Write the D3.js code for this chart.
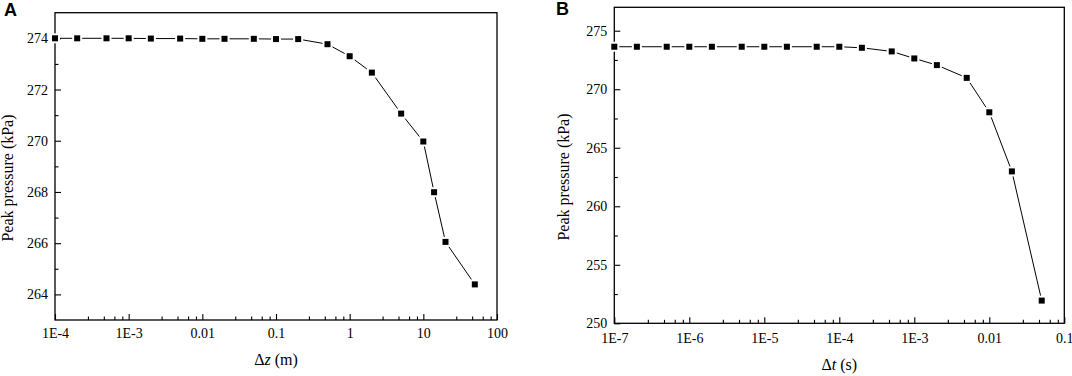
<!DOCTYPE html>
<html lang="en">
<head>
<meta charset="UTF-8">
<title>Peak pressure convergence</title>
</head>
<body style="margin:0;background:#fff">
<svg id="chart" width="1072" height="376" style="display:block"></svg>
<script src="https://cdnjs.cloudflare.com/ajax/libs/d3/7.8.5/d3.min.js"></script>
<script>
// panel A: spatial step
const dzValues = [1e-4, 2e-4, 5e-4, 1e-3, 2e-3, 5e-3, 0.01, 0.02, 0.05, 0.1, 0.2, 0.5, 1, 2, 5, 10, 14, 20, 50];
const pressureA = [274.0, 274.0, 274.0, 274.0, 273.99, 273.99, 273.98, 273.98, 273.98, 273.97, 273.97,
                   273.77, 273.3, 272.66, 271.06, 269.97, 267.99, 266.05, 264.39];
const xTickValsA = [1e-4, 1e-3, 0.01, 0.1, 1, 10, 100];
const xTickLabelsA = ["1E-4", "1E-3", "0.01", "0.1", "1", "10", "100"];
const yTicksA = [264, 266, 268, 270, 272, 274];

// panel B: time step
const dtValues = [1e-7, 2e-7, 5e-7, 1e-6, 2e-6, 5e-6, 1e-5, 2e-5, 5e-5, 1e-4, 2e-4, 5e-4, 1e-3, 2e-3, 5e-3, 0.01, 0.02, 0.05];
const pressureB = [273.63, 273.63, 273.63, 273.63, 273.63, 273.63, 273.63, 273.63, 273.63, 273.63, 273.54,
                   273.23, 272.63, 272.06, 270.97, 268.03, 262.98, 251.94];
const xTickValsB = [1e-7, 1e-6, 1e-5, 1e-4, 1e-3, 0.01, 0.1];
const xTickLabelsB = ["1E-7", "1E-6", "1E-5", "1E-4", "1E-3", "0.01", "0.1"];
const yTicksB = [250, 255, 260, 265, 270, 275];

const SERIF = "'Liberation Serif', 'Times New Roman', Times, serif";
const svg = d3.select("#chart");

// origin-style log minor ticks: 4 evenly spaced between decades
function logMinors(majors) {
  const out = [];
  majors.slice(0, -1).forEach(m => [2.8, 4.6, 6.4, 8.2].forEach(k => out.push(m * k)));
  return out;
}

function styleAxis(a) {
  a.select(".domain").remove();
  a.attr("font-family", SERIF).attr("font-size", 14);
  a.selectAll(".tick text").attr("fill", "#000");
  a.selectAll(".tick line").attr("stroke", "#000").attr("stroke-width", 1.1);
}

function drawPanel(cfg) {
  const x = d3.scaleLog().domain(cfg.xDomain).range([cfg.left, cfg.right]);
  const y = d3.scaleLinear().domain(cfg.yDomain).range([cfg.bottom, cfg.top]);
  const g = svg.append("g");

  // minor ticks
  g.append("g")
    .attr("transform", `translate(0,${cfg.bottom})`)
    .call(d3.axisBottom(x).tickValues(logMinors(cfg.xTicks)).tickSize(-3.5).tickFormat(""))
    .call(styleAxis);
  g.append("g")
    .attr("transform", `translate(${cfg.left},0)`)
    .call(d3.axisLeft(y).tickValues(cfg.yMinor).tickSize(-3.5).tickFormat(""))
    .call(styleAxis);

  // major ticks
  g.append("g")
    .attr("transform", `translate(0,${cfg.bottom})`)
    .call(d3.axisBottom(x).tickValues(cfg.xTicks).tickSize(-6).tickPadding(cfg.xPad)
      .tickFormat((d, i) => cfg.xLabels[i]))
    .call(styleAxis);
  g.append("g")
    .attr("transform", `translate(${cfg.left},0)`)
    .call(d3.axisLeft(y).tickValues(cfg.yTicks).tickSize(-6).tickPadding(7).tickFormat(d3.format("d")))
    .call(styleAxis);

  g.append("rect")
    .attr("x", cfg.left).attr("y", cfg.top)
    .attr("width", cfg.right - cfg.left).attr("height", cfg.bottom - cfg.top)
    .attr("fill", "none").attr("stroke", "#000").attr("stroke-width", 1.3);

  const pts = cfg.xs.map((v, i) => [v, cfg.ys[i]]);
  const line = d3.line().x(d => x(d[0])).y(d => y(d[1]));
  g.append("path").datum(pts)
    .attr("d", line).attr("fill", "none").attr("stroke", "#000").attr("stroke-width", 1);

  // white halo gives the gap in the line around each marker
  g.selectAll(".halo").data(pts).enter().append("rect")
    .attr("x", d => x(d[0]) - 5).attr("y", d => y(d[1]) - 5)
    .attr("width", 10).attr("height", 10).attr("fill", "#fff");
  g.selectAll(".mk").data(pts).enter().append("rect")
    .attr("x", d => x(d[0]) - 3).attr("y", d => y(d[1]) - 3)
    .attr("width", 6).attr("height", 6).attr("fill", "#000");

  // y title
  g.append("text")
    .attr("transform", `translate(${cfg.yTitleX},${cfg.yTitleY}) rotate(-90)`)
    .attr("text-anchor", "middle")
    .attr("font-family", SERIF).attr("font-size", 16).attr("fill", "#000")
    .text("Peak pressure (kPa)");

  // x title: upright delta, italic variable
  const xt = g.append("text")
    .attr("x", (cfg.left + cfg.right) / 2).attr("y", cfg.xTitleY).attr("text-anchor", "middle")
    .attr("font-family", SERIF).attr("font-size", 16).attr("fill", "#000");
  xt.append("tspan").text("\u0394");
  xt.append("tspan").attr("font-style", "italic").text(cfg.varName);
  xt.append("tspan").text(" " + cfg.unit);

  g.append("text")
    .attr("x", cfg.letterX).attr("y", cfg.letterY)
    .attr("font-family", "'Liberation Sans', Arial, sans-serif")
    .attr("font-size", 18).attr("font-weight", "bold").attr("fill", "#000")
    .text(cfg.letter);
}

drawPanel({
  left: 55, right: 497, top: 12.7, bottom: 320,
  xDomain: [1e-4, 100], yDomain: [263, 275],
  xTicks: xTickValsA, xLabels: xTickLabelsA, xPad: 8,
  yTicks: yTicksA, yMinor: [265, 267, 269, 271, 273],
  xs: dzValues, ys: pressureA,
  yTitleX: 13, yTitleY: 178, xTitleY: 365,
  varName: "z", unit: "(m)",
  letter: "A", letterX: 4, letterY: 16
});

drawPanel({
  left: 614.3, right: 1064.3, top: 7.3, bottom: 323.3,
  xDomain: [1e-7, 0.1], yDomain: [250, 277],
  xTicks: xTickValsB, xLabels: xTickLabelsB, xPad: 10,
  yTicks: yTicksB, yMinor: [252.5, 257.5, 262.5, 267.5, 272.5],
  xs: dtValues, ys: pressureB,
  yTitleX: 569, yTitleY: 177, xTitleY: 370,
  varName: "t", unit: "(s)",
  letter: "B", letterX: 556, letterY: 15
});
</script>
</body>
</html>
